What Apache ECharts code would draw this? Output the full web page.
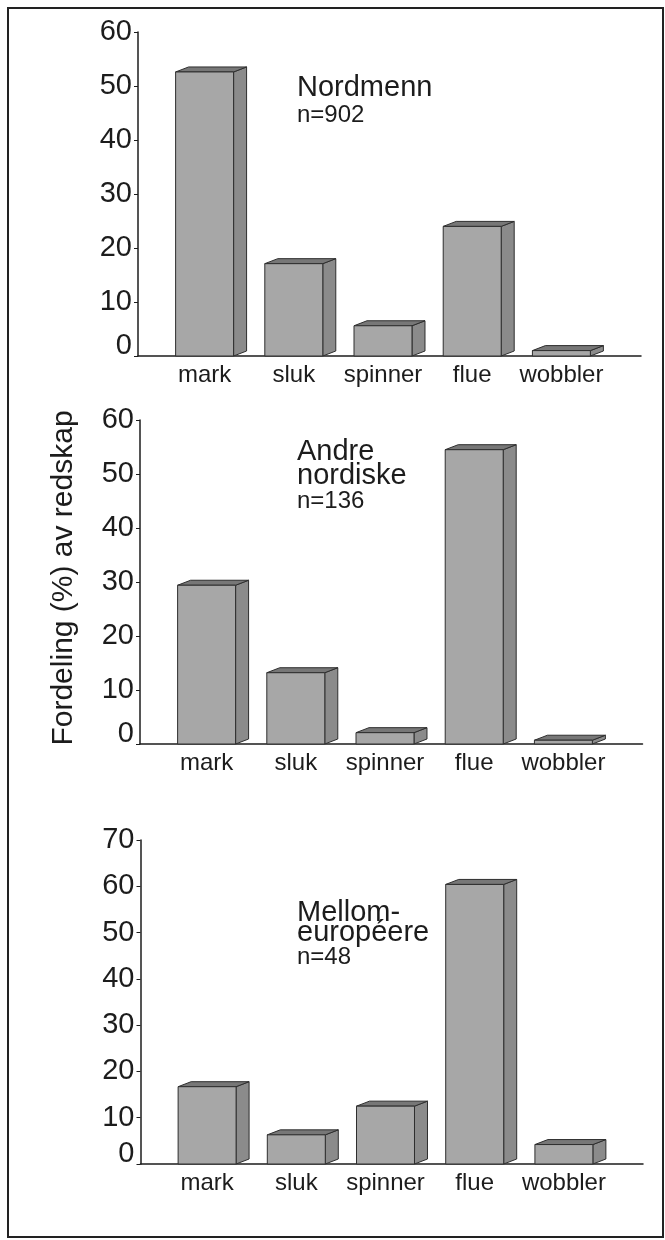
<!DOCTYPE html>
<html>
<head>
<meta charset="utf-8">
<script src="https://cdn.jsdelivr.net/npm/echarts@6/dist/echarts.min.js"></script>
<style>
html,body{margin:0;padding:0;background:#fff;}
#chart{width:665px;height:1240px;}
</style>
</head>
<body>
<div id="chart"></div>
<script>
// ---- data ----
const categories = ['mark', 'sluk', 'spinner', 'flue', 'wobbler'];
const nordmenn = [52.6, 17.1, 5.6, 24.0, 1.0];
const andreNordiske = [29.4, 13.2, 2.1, 54.5, 0.7];
const mellomeuropeere = [16.7, 6.3, 12.5, 60.4, 4.2];
const panelTitles = ['Nordmenn', 'Andre\nnordiske', 'Mellom-\neuropéere'];
const panelSubtitles = ['n=902', 'n=136', 'n=48'];
const yMax = [60, 60, 70];
const yAxisTitle = 'Fordeling (%) av redskap';

// ---- styling / layout ----
const FONT = '"Liberation Sans", Arial, sans-serif';
const INK = '#1c1c1c';
const panels = [
  { values: nordmenn,        axisX: 138,   top: 32,  end: 641,   titleTop: 73,    titleLH: 29, gap: 1 },
  { values: andreNordiske,   axisX: 140,   top: 420, end: 642.5, titleTop: 439.5, titleLH: 24, gap: -3 },
  { values: mellomeuropeere, axisX: 140.5, top: 840, end: 643,   titleTop: 903,   titleLH: 20, gap: -7 }
];
const PH = 324;

const FRONT = '#a7a7a7', SIDE = '#8b8b8b', TOPC = '#777777', EDGE = '#2e2e2e';
const DX = 13, DY = -5;

function renderBar(params, api) {
  const i = api.value(0), v = api.value(1);
  const t = api.coord([i, v]);
  const b = api.coord([i, 0]);
  const bw = api.size([1, 0])[0] * 0.65;
  const xl = t[0] - bw / 2, xr = t[0] + bw / 2, yt = t[1], yb = b[1];
  const st = (f) => ({ fill: f, stroke: EDGE, lineWidth: 1 });
  return {
    type: 'group',
    children: [
      { type: 'polygon', shape: { points: [[xr, yt], [xr + DX, yt + DY], [xr + DX, yb + DY], [xr, yb]] }, style: st(SIDE) },
      { type: 'polygon', shape: { points: [[xl, yt], [xl + DX, yt + DY], [xr + DX, yt + DY], [xr, yt]] }, style: st(TOPC) },
      { type: 'rect', shape: { x: xl, y: yt, width: bw, height: yb - yt }, style: st(FRONT) }
    ]
  };
}

const grid = [], xAxis = [], yAxis = [], series = [], title = [];
panels.forEach((p, k) => {
  const gA = grid.length;
  grid.push({ left: p.axisX, top: p.top, width: p.end - p.axisX, height: PH, containLabel: false });
  grid.push({ left: p.axisX + 22, top: p.top, width: 446, height: PH, containLabel: false });

  xAxis.push({
    gridIndex: gA, type: 'value', min: 0, max: 1,
    axisLine: { show: true, onZero: false, lineStyle: { color: INK, width: 1.5 } },
    axisTick: { show: false }, axisLabel: { show: false }, splitLine: { show: false }
  });
  xAxis.push({
    gridIndex: gA + 1, type: 'category', data: categories,
    axisLine: { show: false }, axisTick: { show: false }, splitLine: { show: false },
    axisLabel: { interval: 0, hideOverlap: false, fontFamily: FONT, fontSize: 24, color: INK, margin: 7 }
  });
  yAxis.push({
    gridIndex: gA, type: 'value', min: 0, max: yMax[k], interval: 10,
    axisLine: { show: true, lineStyle: { color: INK, width: 1.5 } },
    axisTick: { show: true, length: 4, lineStyle: { color: INK, width: 1 } },
    splitLine: { show: false },
    axisLabel: {
      margin: 6, color: INK, fontFamily: FONT, fontSize: 29,
      formatter: (v) => v === 0 ? '{z|0}' : '{n|' + v + '}',
      rich: {
        z: { fontFamily: FONT, fontSize: 29, color: INK, padding: [0, 0, 20, 0] },
        n: { fontFamily: FONT, fontSize: 29, color: INK }
      }
    }
  });
  yAxis.push({
    gridIndex: gA + 1, type: 'value', min: 0, max: yMax[k], interval: 10, show: false
  });
  series.push({
    type: 'custom', xAxisIndex: gA + 1, yAxisIndex: gA + 1,
    renderItem: renderBar,
    encode: { x: 0, y: 1 },
    data: p.values.map((v, i) => [i, v])
  });
  title.push({
    text: panelTitles[k], subtext: panelSubtitles[k],
    left: 297, top: p.titleTop, padding: 0, itemGap: p.gap,
    textStyle: { fontFamily: FONT, fontSize: 29, lineHeight: p.titleLH, fontWeight: 'normal', color: INK },
    subtextStyle: { fontFamily: FONT, fontSize: 24, lineHeight: 24, color: INK }
  });
});

const chart = echarts.init(document.getElementById('chart'), null, { renderer: 'canvas' });
chart.setOption({
  backgroundColor: '#ffffff',
  animation: false,
  title, grid, xAxis, yAxis, series,
  graphic: [
    {
      type: 'rect', shape: { x: 8, y: 8, width: 655, height: 1229 },
      style: { fill: 'none', stroke: '#222', lineWidth: 2 }, silent: true
    },
    {
      type: 'text', x: 64, y: 578, rotation: Math.PI / 2,
      style: {
        text: yAxisTitle, fontFamily: FONT, fontSize: 30, fill: INK,
        align: 'center', verticalAlign: 'middle'
      }
    }
  ]
});
</script>
</body>
</html>
